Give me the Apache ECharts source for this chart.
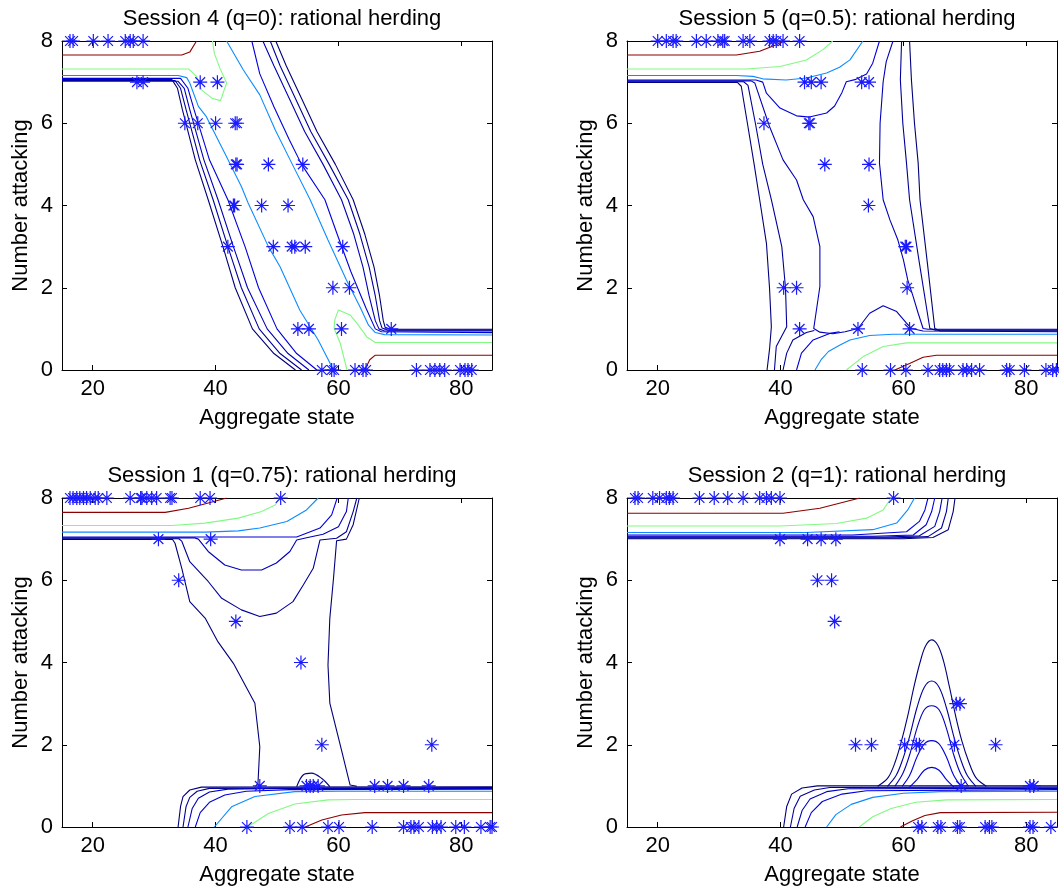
<!DOCTYPE html>
<html>
<head>
<meta charset="utf-8">
<script src="https://cdn.jsdelivr.net/npm/echarts@6/dist/echarts.min.js"></script>
<style>
  html, body { margin: 0; padding: 0; background: #fff; }
  #chart { width: 1059px; height: 889px; }
</style>
</head>
<body>
<div id="chart"></div>
<script>
'use strict';

// axes
const xTicks = [20, 40, 60, 80];
const yTicks = [0, 2, 4, 6, 8];
const titles = [
    'Session 4 (q=0): rational herding',
    'Session 5 (q=0.5): rational herding',
    'Session 1 (q=0.75): rational herding',
    'Session 2 (q=1): rational herding'
];

// ---- Session 4 (q=0) ----
const s4Stars = [
    [16.3,8],[16.8,8],[20.1,8],[22.5,8],[25.3,8],[26.1,8],[26.6,8],[28.2,8],
    [27.2,7],[28.2,7],[37.5,7],[40.3,7],
    [35.0,6],[37.1,6],[40.0,6],[43.2,6],[43.5,6],
    [43.3,5],[43.5,5],[48.6,5],[54.2,5],
    [42.9,4],[43.1,4],[47.5,4],[51.8,4],
    [42.0,3],[49.4,3],[52.4,3],[52.9,3],[54.6,3],[60.7,3],
    [59.1,2],[61.8,2],
    [53.4,1],[55.2,1],[60.5,1],[68.6,1],
    [57.3,0],[58.9,0],[59.3,0],[62.7,0],[64.0,0],[64.5,0],[72.7,0],[74.9,0],[75.7,0],
    [76.5,0],[77.3,0],[79.8,0],[80.6,0],[81.1,0],[81.7,0]
];
const s4NavyA = [[15,7.06],[32.9,7.06],[33.8,6.85],[34.6,6.33],[36.7,5.11],[38.8,4.14],[41.2,3.0],[43.2,2.0],[46.0,1.0],[49.5,0.4],[53.0,0]];
const s4NavyB = [[15,7.04],[33.4,7.04],[34.3,6.85],[35.2,6.33],[37.4,5.11],[39.6,4.14],[42.0,3.0],[44.2,2.0],[47.1,1.0],[50.5,0.4],[54.0,0]];
const s4NavyC = [[15,7.02],[33.9,7.02],[34.9,6.85],[35.8,6.33],[38.1,5.11],[40.4,4.14],[42.9,3.0],[45.2,2.0],[48.4,1.0],[51.8,0.4],[55.2,0]];
const s4BlueD = [[15,7.09],[34.3,7.09],[35.5,6.85],[36.5,6.33],[39.0,5.11],[42.0,4.14],[44.8,3.0],[47.0,2.0],[50.0,1.0],[53.2,0.4],[56.5,0]];
const s4LightE = [[15,7.16],[33.9,7.16],[35.3,7.11],[35.8,6.98],[37.2,6.41],[38.5,6.16],[41.5,5.27],[44.2,4.46],[45.3,4.06],[48.6,3.0],[50.5,2.51],[53.7,1.46],[56.7,0.73],[59.2,0]];
const s4LightF = [[41.8,8],[44.5,7.3],[47.2,6.69],[49.7,5.84],[52.5,5.0],[55.4,4.14],[58.3,3.16],[61.3,2.19],[63.5,1.54],[64.9,1.09],[66.0,0.91],[67.5,0.86],[85,0.85]];
const s4BlueG = [[45.9,8],[47.2,7.2],[49.5,6.4],[52.0,5.6],[54.0,5.0],[57.8,4.14],[59.8,3.3],[62.0,2.4],[64.5,1.5],[66.0,1.0],[67.0,0.93],[85,0.91]];
const s4NavyH = [[47.7,8],[49.5,7.4],[52.0,6.6],[54.5,5.8],[57.5,5.0],[60.5,4.14],[62.5,3.3],[64.0,2.5],[65.0,1.8],[66.0,1.2],[66.6,1.0],[67.5,0.95],[85,0.95]];
const s4NavyI = [[48.9,8],[50.5,7.4],[53.0,6.6],[55.5,5.8],[58.5,5.0],[61.6,4.14],[63.5,3.3],[65.0,2.5],[66.0,1.8],[66.7,1.2],[67.1,1.02],[68.0,0.97],[85,0.97]];
const s4NavyJ = [[49.8,8],[51.5,7.4],[54.0,6.6],[56.5,5.8],[59.5,5.0],[62.4,4.14],[64.3,3.3],[65.8,2.5],[66.7,1.8],[67.3,1.2],[67.6,1.04],[68.5,0.99],[85,0.99]];
const s4GreenTop = [[15,7.32],[35.6,7.32],[36.9,7.14],[37.7,6.81],[39.4,6.61],[40.8,6.55],[41.8,6.98],[40.7,7.34],[39.8,7.7],[39.5,8]];
const s4GreenBot = [[85,0.67],[66.0,0.67],[64.6,0.81],[63.0,1.14],[61.9,1.34],[60.0,1.46],[59.4,1.22],[59.3,1.01],[60.3,0.65],[61.4,0]];
const s4RedTop = [[15,7.66],[34.5,7.66],[35.8,7.73],[36.9,8]];
const s4RedBot = [[64.3,0],[64.6,0.1],[65.1,0.25],[66.0,0.36],[85,0.36]];

// ---- Session 5 (q=0.5) ----
const s5Stars = [
    [20.0,8],[21.4,8],[22.5,8],[23.0,8],[26.3,8],[27.9,8],[29.8,8],[30.6,8],[30.9,8],[33.9,8],
    [35.0,8],[38.2,8],[38.8,8],[39.3,8],[40.4,8],[43.1,8],
    [43.9,7],[45.0,7],[46.6,7],[53.2,7],[54.4,7],
    [37.3,6],[44.6,6],[44.8,6],
    [47.2,5],[54.4,5],
    [54.3,4],
    [60.3,3],[60.5,3],
    [40.5,2],[42.6,2],[60.6,2],
    [43.1,1],[52.6,1],[61.0,1],
    [53.3,0],[57.9,0],[60.4,0],[64.0,0],[65.9,0],[66.4,0],[67.0,0],[67.5,0],[69.7,0],[70.3,0],
    [71.1,0],[72.4,0],[76.8,0],[77.3,0],[79.7,0],[83.2,0],[84.3,0],[84.9,0]
];
const s5NavyP = [[15,6.99],[33.0,6.99],[33.6,6.9],[34.6,6.0],[35.7,5.0],[36.6,4.14],[37.7,3.08],[38.2,2.0],[38.5,1.05],[38.2,0.5],[37.8,0]];
const s5NavyQ = [[15,7.01],[34.0,7.01],[34.7,6.92],[35.9,6.0],[37.1,5.0],[38.5,4.14],[40.2,3.0],[40.8,2.0],[41.0,1.05],[39.3,0.57],[39.0,0]];
const s5NavyR = [[15,7.03],[35.2,7.03],[35.8,6.98],[38.2,5.92],[40.4,5.11],[42.6,4.62],[43.7,4.14],[45.3,3.73],[46.4,3.0],[46.4,2.03],[45.4,1.01],[46.4,0.92],[48.5,0.88],[50.5,0.93],[52.6,1.01],[54.5,1.38],[56.7,1.56],[58.9,1.42],[60.5,1.14],[61.3,1.01],[63.2,0.95],[85,0.93]];
const s5BlueLoop = [[15,7.05],[36.0,7.05],[37.1,7.0],[37.7,6.73],[39.9,6.37],[42.6,6.18],[44.7,6.15],[47.5,6.25],[48.8,6.42],[50.0,6.75],[50.7,7.01],[52.1,7.06],[54.0,7.2],[55.0,7.46],[56.1,8]];
const s5BlueS1 = [[58.3,8],[57.2,7.5],[56.7,7.01],[56.2,6.0],[56.1,5.03],[56.7,4.14],[57.8,3.65],[59.1,3.16],[60.0,2.68],[60.7,2.19],[61.6,1.78],[62.4,1.38],[63.2,1.01],[64.0,0.99],[85,0.99]];
const s5NavyS2 = [[59.7,8],[59.5,7.06],[59.9,6.0],[60.5,5.03],[61.0,4.14],[62.6,2.6],[64.3,1.01],[65.2,0.97],[85,0.97]];
const s5NavyS3 = [[61.0,8],[61.3,7.06],[61.8,6.0],[62.4,5.03],[62.7,4.14],[63.9,2.6],[65.1,1.01],[66.0,0.95],[85,0.95]];
const s5NavyT1 = [[40.4,0],[41.0,0.41],[42.0,0.73],[44.2,0.91],[45.5,0.96]];
const s5BlueT2 = [[42.6,0],[43.4,0.41],[45.3,0.73],[48.0,0.89],[49.6,0.93]];
const s5LightTop = [[15,7.16],[32.8,7.16],[35.5,7.14],[37.1,7.08],[40.9,7.05],[44.2,7.1],[47.5,7.22],[49.6,7.36],[51.3,7.54],[53.4,8]];
const s5LightBot = [[45.6,0],[46.6,0.25],[47.8,0.45],[49.6,0.6],[51.3,0.73],[54.5,0.84],[58.3,0.87],[85,0.87]];
const s5GreenTop = [[15,7.32],[34.4,7.32],[39.9,7.38],[44.2,7.54],[46.9,7.79],[48.5,8]];
const s5GreenBot = [[50.7,0],[53.4,0.32],[56.7,0.57],[60.5,0.66],[85,0.66]];
const s5RedTop = [[15,7.66],[32.8,7.66],[36.6,7.75],[39.3,7.91],[40.4,8]];
const s5RedBot = [[58.6,0],[61.0,0.16],[63.2,0.31],[65.4,0.36],[85,0.36]];

// ---- Session 1 (q=0.75) ----
const s1Stars = [
    [16.3,8],[16.8,8],[17.4,8],[17.9,8],[18.5,8],[19.0,8],[19.6,8],[20.4,8],[20.9,8],[22.3,8],
    [26.1,8],[27.8,8],[28.0,8],[28.8,8],[29.6,8],[30.4,8],[32.6,8],[32.9,8],[37.5,8],[39.1,8],[50.6,8],
    [30.7,7],[39.2,7],
    [34.0,6],
    [43.3,5],
    [53.9,4],
    [57.3,2],[75.2,2],
    [47.2,1],[54.8,1],[55.4,1],[55.9,1],[56.7,1],[65.9,1],[68.0,1],[70.6,1],[74.7,1],
    [45.1,0],[52.1,0],[54.1,0],[58.3,0],[60.1,0],[65.5,0],[70.6,0],[71.8,0],[72.3,0],[73.1,0],
    [75.3,0],[76.0,0],[76.7,0],[79.1,0],[80.5,0],[83.2,0],[84.7,0],[85.0,0]
];
const s1BlueU1 = [[15,7.05],[53.2,7.05],[57.0,7.27],[58.9,7.59],[59.8,8]];
const s1BlueU2 = [[15,7.03],[36.6,7.03],[37.2,7.0],[38.8,6.7],[41.5,6.37],[44.2,6.25],[47.5,6.25],[49.9,6.42],[52.1,6.7],[53.2,6.98],[55.0,7.04],[57.5,7.12],[60.0,7.3],[61.3,7.67],[61.6,8]];
const s1NavyU3 = [[15,7.01],[34.0,7.01],[34.5,6.95],[35.8,6.45],[38.8,5.97],[41.0,5.56],[44.2,5.28],[47.2,5.12],[49.9,5.2],[52.6,5.48],[54.3,5.89],[55.9,6.29],[57.0,6.98],[59.7,7.02],[61.3,7.18],[62.4,7.67],[63.0,8]];
const s1NavyU4 = [[15,6.99],[33.0,6.99],[33.4,6.9],[34.5,6.29],[35.8,5.48],[38.3,5.08],[40.4,4.5],[42.9,3.98],[46.4,3.01],[47.2,1.95],[46.9,1.06],[46.5,0.99]];
const s1NavyU5 = [[63.4,8],[62.4,7.35],[61.3,7.0],[59.7,6.96],[59.2,6.05],[58.6,5.08],[58.3,3.94],[58.6,3.01],[60.5,1.87],[61.9,1.02],[63.0,0.99]];
const s1NavyBump = [[53.2,0.98],[54.3,1.27],[55.6,1.31],[57.3,1.18],[58.6,0.98]];
const s1NavyV1 = [[33.9,0],[34.3,0.5],[34.7,0.74],[35.8,0.9],[37.7,0.97],[85,0.98]];
const s1NavyV2 = [[34.7,0],[35.2,0.5],[35.8,0.72],[37.0,0.87],[39.0,0.94],[85,0.96]];
const s1NavyV3 = [[35.5,0],[36.2,0.45],[37.2,0.7],[39.0,0.85],[42.0,0.92],[50.0,0.94],[85,0.94]];
const s1BlueV4 = [[36.7,0],[37.5,0.35],[39.0,0.6],[41.5,0.78],[45.0,0.87],[52.0,0.91],[85,0.92]];
const s1LightTop = [[15,7.17],[38.3,7.17],[43.7,7.2],[47.2,7.27],[51.6,7.43],[54.8,7.71],[56.7,8]];
const s1LightBot = [[39.8,0],[42.6,0.49],[46.4,0.74],[52.9,0.86],[60.0,0.87],[85,0.87]];
const s1GreenTop = [[15,7.33],[32.9,7.33],[38.3,7.39],[43.7,7.51],[47.5,7.67],[49.7,7.83],[50.4,8]];
const s1GreenBot = [[45.2,0],[48.6,0.33],[52.9,0.56],[58.3,0.66],[62.7,0.67],[85,0.67]];
const s1RedTop = [[15,7.65],[31.8,7.65],[35.6,7.75],[38.8,7.88],[41.8,8]];
const s1RedBot = [[54.6,0],[57.3,0.17],[60.5,0.29],[64.3,0.35],[85,0.35]];

// ---- Session 2 (q=1) ----
const s2Stars = [
    [16.3,8],[16.8,8],[19.2,8],[20.3,8],[21.4,8],[21.9,8],[22.5,8],[26.8,8],[29.2,8],[31.4,8],
    [33.9,8],[36.6,8],[37.7,8],[38.5,8],[39.9,8],[58.4,8],
    [39.9,7],[44.4,7],[46.6,7],[49.0,7],
    [46.0,6],[48.3,6],
    [48.8,5],
    [68.6,3],[69.2,3],
    [52.2,2],[54.8,2],[60.2,2],[62.1,2],[62.6,2],[68.3,2],[75.0,2],
    [69.4,1],[80.6,1],[81.2,1],
    [62.4,0],[63.0,0],[65.6,0],[66.1,0],[68.8,0],[69.2,0],[73.3,0],[74.0,0],[74.4,0],[80.6,0],[81.1,0],[84.0,0]
];
const s2NavyN1 = [[15,7.07],[55.0,7.07],[61.6,7.1],[63.7,7.35],[64.6,7.67],[65.1,8]];
const s2NavyN2 = [[15,7.05],[57.0,7.05],[62.6,7.08],[65.1,7.31],[65.9,7.67],[66.3,8]];
const s2NavyN3 = [[15,7.03],[59.0,7.03],[64.0,7.06],[66.2,7.27],[67.0,7.67],[67.3,8]];
const s2NavyN4 = [[15,7.01],[60.0,7.01],[64.8,7.04],[67.3,7.23],[68.1,7.67],[68.4,8]];
const s2BlueTop = [[15,7.1],[51.7,7.1],[60.5,7.18],[62.6,7.43],[63.5,7.71],[64.0,8]];
const s2LightTop = [[15,7.16],[44.2,7.16],[55.0,7.23],[58.9,7.39],[60.7,7.71],[61.8,8]];
const s2GreenTop = [[15,7.32],[39.9,7.32],[49.1,7.38],[54.0,7.51],[56.7,7.71],[58.0,8]];
const s2RedTop = [[15,7.63],[40.4,7.63],[46.4,7.75],[52.9,8]];
const s2NavyW1 = [[40.5,0],[41.0,0.5],[41.8,0.8],[43.5,0.95],[46.0,1.0],[85,1.0]];
const s2NavyW2 = [[41.6,0],[42.2,0.45],[43.2,0.75],[45.5,0.9],[48.0,0.96],[85,0.97]];
const s2NavyW3 = [[42.7,0],[43.5,0.4],[44.8,0.68],[47.5,0.86],[51.0,0.93],[85,0.94]];
const s2BlueW4 = [[44.0,0],[45.0,0.35],[46.8,0.62],[50.0,0.8],[54.0,0.88],[85,0.91]];
const s2LightBot = [[47.5,0],[49.0,0.3],[51.5,0.55],[55.0,0.72],[60.0,0.82],[66.0,0.86],[85,0.87]];
const s2GreenBot = [[52.8,0],[55.0,0.25],[58.0,0.45],[62.0,0.6],[67.0,0.66],[85,0.67]];
const s2RedBot = [[59.5,0],[61.5,0.15],[63.5,0.28],[66.0,0.35],[85,0.36]];
const s2Arch1 = [[55.8,0.99],[57.5,1.2],[58.7,1.6],[59.7,2.1],[60.7,2.7],[61.7,3.4],[62.7,4.0],[63.6,4.4],[64.6,4.55],[65.6,4.42],[66.5,4.05],[67.5,3.4],[68.5,2.7],[69.5,2.1],[70.6,1.6],[71.8,1.2],[73.5,0.99]];
const s2Arch2 = [[57.4,0.99],[58.8,1.25],[59.9,1.65],[61.0,2.2],[62.2,2.9],[63.4,3.4],[64.6,3.55],[65.8,3.4],[67.0,2.9],[68.2,2.2],[69.3,1.65],[70.4,1.25],[71.8,0.99]];
const s2Arch3 = [[58.6,0.99],[59.9,1.3],[61.0,1.75],[62.2,2.4],[63.4,2.85],[64.6,2.95],[65.8,2.85],[67.0,2.4],[68.2,1.75],[69.3,1.3],[70.6,0.99]];
const s2Arch4 = [[59.8,0.99],[61.0,1.25],[62.2,1.7],[63.4,2.02],[64.6,2.1],[65.8,2.02],[67.0,1.7],[68.2,1.25],[69.4,0.99]];
const s2Arch5 = [[61.0,0.97],[62.2,1.15],[63.4,1.38],[64.6,1.45],[65.8,1.38],[67.0,1.15],[68.2,0.97]];

// colours by contour level
const levelColors = {
    n1: '#00007a', n2: '#000099', n3: '#0000b8', n4: '#0000dd',
    lb: '#0c8cff', gr: '#82f982', rd: '#8b0000'
};

const panelLines = [
    [[s4NavyA,'n1'],[s4NavyB,'n2'],[s4NavyC,'n3'],[s4BlueD,'n4'],[s4LightE,'lb'],[s4LightF,'lb'],
     [s4BlueG,'n4'],[s4NavyH,'n3'],[s4NavyI,'n2'],[s4NavyJ,'n1'],[s4GreenTop,'gr'],[s4GreenBot,'gr'],
     [s4RedTop,'rd'],[s4RedBot,'rd']],
    [[s5NavyP,'n1'],[s5NavyQ,'n2'],[s5NavyR,'n3'],[s5BlueLoop,'n4'],[s5BlueS1,'n3'],[s5NavyS2,'n2'],
     [s5NavyS3,'n1'],[s5NavyT1,'n2'],[s5BlueT2,'n4'],[s5LightTop,'lb'],[s5LightBot,'lb'],
     [s5GreenTop,'gr'],[s5GreenBot,'gr'],[s5RedTop,'rd'],[s5RedBot,'rd']],
    [[s1BlueU1,'n4'],[s1BlueU2,'n3'],[s1NavyU3,'n2'],[s1NavyU4,'n1'],[s1NavyU5,'n1'],[s1NavyBump,'n1'],
     [s1NavyV1,'n1'],[s1NavyV2,'n2'],[s1NavyV3,'n3'],[s1BlueV4,'n4'],[s1LightTop,'lb'],[s1LightBot,'lb'],
     [s1GreenTop,'gr'],[s1GreenBot,'gr'],[s1RedTop,'rd'],[s1RedBot,'rd']],
    [[s2NavyN1,'n4'],[s2NavyN2,'n3'],[s2NavyN3,'n2'],[s2NavyN4,'n1'],[s2BlueTop,'n4'],[s2LightTop,'lb'],
     [s2GreenTop,'gr'],[s2RedTop,'rd'],[s2NavyW1,'n1'],[s2NavyW2,'n2'],[s2NavyW3,'n3'],[s2BlueW4,'n4'],
     [s2LightBot,'lb'],[s2GreenBot,'gr'],[s2RedBot,'rd'],[s2Arch1,'n1'],[s2Arch2,'n2'],[s2Arch3,'n3'],
     [s2Arch4,'n4'],[s2Arch5,'n4']]
];
const panelStars = [s4Stars, s5Stars, s1Stars, s2Stars];
// the q=1 bumps are round, draw them smoothed
const smoothLines = [s2Arch1, s2Arch2, s2Arch3, s2Arch4, s2Arch5, s1NavyBump];

// layout
const boxes = [[62, 41], [627, 41], [62, 498], [627, 498]];
const boxW = 430, boxH = 329;
const FONT = 'Liberation Sans';
const STAR = 'path://M10,0L10,20M0,10L20,10M3,3L17,17M3,17L17,3';

var chart = echarts.init(document.getElementById('chart'), null, {renderer: 'canvas'});

var grid = [], xAxis = [], yAxis = [], series = [], title = [];
boxes.forEach(function(b, i) {
    grid.push({left: b[0], top: b[1], width: boxW, height: boxH});
    title.push({
        text: titles[i], left: b[0] + boxW / 2, top: b[1] - 38, textAlign: 'center',
        textStyle: {fontFamily: FONT, fontSize: 22, fontWeight: 'normal', color: '#000'}
    });
    var line = {show: true, onZero: false, lineStyle: {color: '#000', width: 1}};
    xAxis.push({
        type: 'value', gridIndex: i, min: 15, max: 85, position: 'bottom',
        name: 'Aggregate state', nameLocation: 'middle', nameGap: 37,
        nameTextStyle: {fontFamily: FONT, fontSize: 22, color: '#000'},
        axisLine: line,
        axisTick: {inside: true, length: 5, customValues: xTicks, lineStyle: {color: '#000'}},
        axisLabel: {customValues: xTicks, margin: 8, fontFamily: FONT, fontSize: 22, color: '#000'},
        splitLine: {show: false}
    });
    xAxis.push({
        type: 'value', gridIndex: i, min: 15, max: 85, position: 'top',
        axisLine: line,
        axisTick: {inside: true, length: 5, customValues: xTicks, lineStyle: {color: '#000'}},
        axisLabel: {show: false}, splitLine: {show: false}
    });
    yAxis.push({
        type: 'value', gridIndex: i, min: 0, max: 8, interval: 2, position: 'left',
        name: 'Number attacking', nameLocation: 'middle', nameGap: 30, nameRotate: 90,
        nameTextStyle: {fontFamily: FONT, fontSize: 22, color: '#000'},
        axisLine: line,
        axisTick: {inside: true, length: 5, customValues: yTicks, lineStyle: {color: '#000'}},
        axisLabel: {customValues: yTicks, margin: 9, fontFamily: FONT, fontSize: 22, color: '#000'},
        splitLine: {show: false}
    });
    yAxis.push({
        type: 'value', gridIndex: i, min: 0, max: 8, interval: 2, position: 'right',
        axisLine: line,
        axisTick: {inside: true, length: 5, customValues: yTicks, lineStyle: {color: '#000'}},
        axisLabel: {show: false}, splitLine: {show: false}
    });

    panelLines[i].forEach(function(l) {
        series.push({
            type: 'line', xAxisIndex: 2 * i, yAxisIndex: 2 * i,
            data: l[0], symbol: 'none', silent: true,
            smooth: smoothLines.indexOf(l[0]) >= 0 ? 0.35 : false,
            lineStyle: {color: levelColors[l[1]], width: 1.1}, z: 2
        });
    });
    series.push({
        type: 'scatter', xAxisIndex: 2 * i, yAxisIndex: 2 * i,
        data: panelStars[i], symbol: STAR, symbolSize: 14, clip: false,
        itemStyle: {color: 'rgba(0,0,0,0)', borderColor: '#1a1aff', borderWidth: 1.2, opacity: 1},
        z: 5
    });
});

chart.setOption({
    animation: false,
    backgroundColor: '#fff',
    title: title,
    grid: grid,
    xAxis: xAxis,
    yAxis: yAxis,
    series: series
});
</script>
</body>
</html>
